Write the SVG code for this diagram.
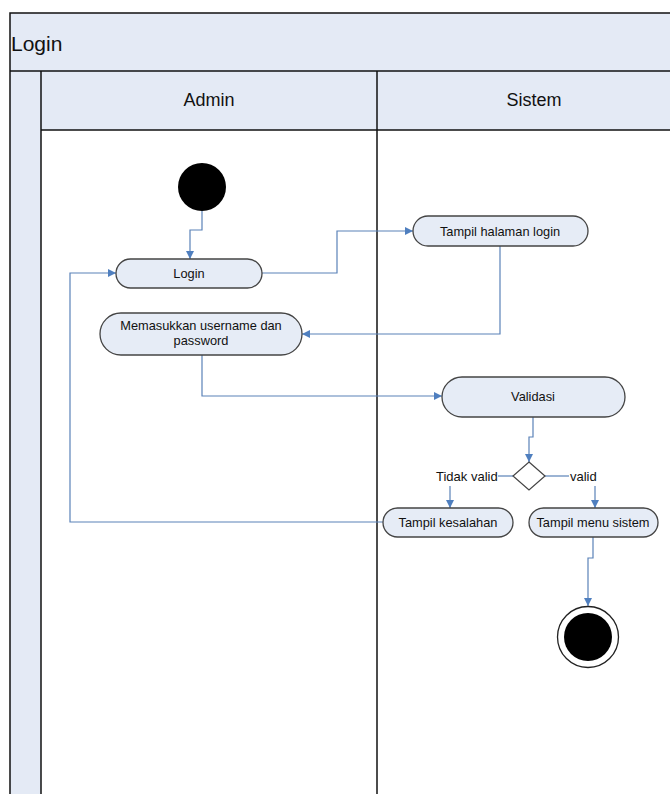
<svg xmlns="http://www.w3.org/2000/svg" width="670" height="794" viewBox="0 0 670 794">
  <defs>
    <marker id="arrow" viewBox="0 0 10 10" refX="10" refY="5" markerWidth="8" markerHeight="8" markerUnits="userSpaceOnUse" orient="auto">
      <path d="M0,0 L10,5 L0,10 z" fill="#4F7FBF"/>
    </marker>
    <style>
      .band { fill: #E4EAF5; stroke: none; }
      .frame { fill: none; stroke: #111; stroke-width: 1.5; }
      .head { font-family: "Liberation Sans", Arial, sans-serif; font-size: 18px; fill: #111; text-anchor: middle; }
      .act { fill: #E6ECF6; stroke: #444; stroke-width: 1.3; }
      .lbl { font-family: "Liberation Sans", Arial, sans-serif; font-size: 12.8px; fill: #111; text-anchor: middle; }
      .guard { font-family: "Liberation Sans", Arial, sans-serif; font-size: 13px; fill: #111; }
      .flow { fill: none; stroke: #5A82B8; stroke-width: 1.2; }
      .flow.arr { marker-end: url(#arrow); }
    </style>
  </defs>

  <rect width="670" height="794" fill="#fff"/>

  <!-- swimlane pool -->
  <g id="pool">
    <rect class="band" x="10" y="13" width="660" height="58"/>
    <rect class="band" x="10" y="71" width="31" height="723"/>
    <rect class="band" x="41" y="71" width="629" height="59"/>
    <path class="frame" d="M10,794 V13 H670"/>
    <line class="frame" x1="10" y1="71" x2="670" y2="71"/>
    <line class="frame" x1="41" y1="130" x2="670" y2="130"/>
    <line class="frame" x1="41" y1="71" x2="41" y2="794"/>
    <line class="frame" x1="377" y1="71" x2="377" y2="794"/>
    <text x="11" y="51" font-family="'Liberation Sans', Arial, sans-serif" font-size="21" fill="#111">Login</text>
    <text class="head" x="209" y="106">Admin</text>
    <text class="head" x="534" y="106">Sistem</text>
  </g>

  <!-- control flows -->
  <g id="connectors">
    <path class="flow arr" d="M202,211 V230 H190 V259"/>
    <path class="flow arr" d="M262,273 H337 V231 H413"/>
    <path class="flow arr" d="M500,246 V334 H302"/>
    <path class="flow arr" d="M202,355 V396 H442"/>
    <path class="flow arr" d="M533,417 V437 H529 V462"/>
    <path class="flow" d="M513,476 H498"/>
    <path class="flow arr" d="M450,486 V508"/>
    <path class="flow" d="M545,476 H569"/>
    <path class="flow arr" d="M595,486 V508"/>
    <path class="flow arr" d="M383,522 H70 V273 H116"/>
    <path class="flow arr" d="M593,537 V558 H588 V606"/>
  </g>

  <g id="start">
    <circle cx="202" cy="187" r="24" fill="#000"/>
  </g>

  <g id="login">
    <rect class="act" x="116" y="259" width="146" height="29" rx="14.5"/>
    <text class="lbl" x="189" y="278">Login</text>
  </g>

  <g id="tampil-halaman-login">
    <rect class="act" x="413" y="216" width="175" height="30" rx="15"/>
    <text class="lbl" x="500" y="236">Tampil halaman login</text>
  </g>

  <g id="memasukkan">
    <rect class="act" x="100" y="313" width="202" height="42" rx="21"/>
    <text class="lbl" x="201" y="330">Memasukkan username dan</text>
    <text class="lbl" x="201" y="345">password</text>
  </g>

  <g id="validasi">
    <rect class="act" x="442" y="377" width="183" height="40" rx="20"/>
    <text class="lbl" x="533" y="401">Validasi</text>
  </g>

  <g id="decision">
    <path d="M529,462 L545,476 L529,490 L513,476 z" fill="#fff" stroke="#444" stroke-width="1.2"/>
    <text class="guard" x="436" y="481">Tidak valid</text>
    <text class="guard" x="570" y="481">valid</text>
  </g>

  <g id="tampil-kesalahan">
    <rect class="act" x="383" y="508" width="130" height="29" rx="14.5"/>
    <text class="lbl" x="448" y="527">Tampil kesalahan</text>
  </g>

  <g id="tampil-menu-sistem">
    <rect class="act" x="529" y="508" width="129" height="29" rx="14.5"/>
    <text class="lbl" x="593" y="527">Tampil menu sistem</text>
  </g>

  <g id="end">
    <circle cx="588" cy="637" r="30.5" fill="#fff" stroke="#222" stroke-width="1.3"/>
    <circle cx="588" cy="637" r="24" fill="#000"/>
  </g>
</svg>
